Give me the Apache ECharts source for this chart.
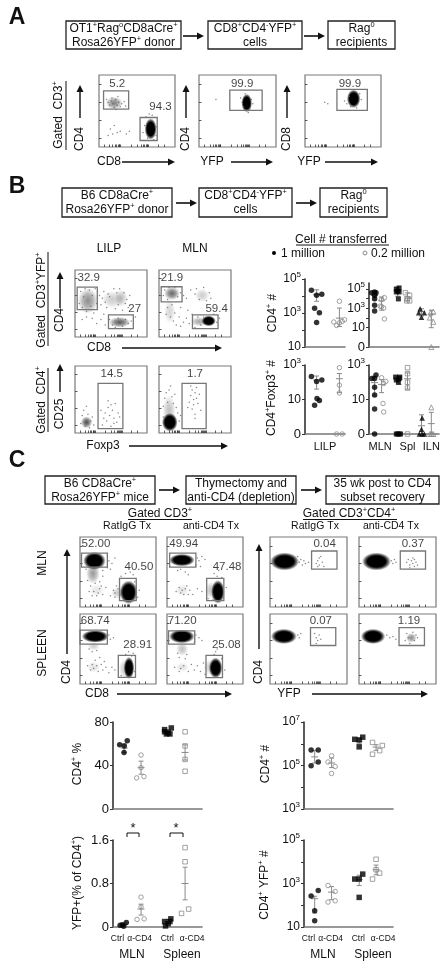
<!DOCTYPE html>
<html><head><meta charset="utf-8">
<style>html,body{margin:0;padding:0;background:#fff}#c{width:448px;height:970px;filter:blur(0.4px)}</style>
<script src="https://cdn.jsdelivr.net/npm/echarts@6/dist/echarts.min.js"></script>
</head><body><div id="c"></div>
<script>
/* ---------- flow cytometry panels: gates [x0,y0,x1,y1], labels [x,y,text],
   populations [cx,cy,spreadX,spreadY,density], events [x,y] (0-100 fluorescence scale) ---------- */
const a1Gates=[[6,52.5,39,78],[54,9,76.6,41]];
const a1Labels=[[24,88,'5.2'],[81,56,'94.3']];
const a1Pops=[[20,61,11,9,.5],[68,25,8,15,1]];
const a1Events=[[12,62],[14,58],[16,64],[18,60],[22,66],[24,58],[26,62],[28,56],[30,60],[33,63],[10,66],[20,55],[17,68],[25,70],[35,57],[22,52],[15,25],[18,18],[20,30],[24,20],[28,22],[12,16],[36,18],[40,22],[62,42],[70,44],[66,46],[64,12],[72,10],[60,30],[76,28],[75,16],[58,20]];
const a2Gates=[[40,51,82,79]];
const a2Labels=[[56,88,'99.9']];
const a2Pops=[[62,61,7,13,1]];
const a2Events=[[22,66],[56,62],[68,66],[58,56],[66,54],[54,68],[70,60],[60,74],[64,48]];
const a3Gates=[[42,51,82,80]];
const a3Labels=[[59,88,'99.9']];
const a3Pops=[[64,67,9,13,1]];
const a3Events=[[26,62],[30,60],[55,60],[58,70],[72,74],[74,66],[52,64],[68,54],[60,56]];

const b1Gates=[[3,41,31,74.5],[46.5,12.5,81,33]];
const b1Labels=[[19,89,'32.9'],[83,42,'27']];
const b1Pops=[[18,54,14,19,.45],[52,56,15,13,.2],[64,58,9,13,.25],[62,22,15,8,.65]];
const b1Events=[[6,50],[8,68],[10,44],[12,60],[14,72],[16,38],[20,70],[22,46],[24,62],[26,36],[28,72],[30,50],[34,62],[36,48],[38,58],[40,68],[42,52],[44,44],[46,64],[48,60],[54,72],[56,42],[58,66],[60,48],[62,72],[66,40],[68,66],[70,50],[72,56],[74,44],[76,62],[24,28],[30,20],[36,26],[42,18],[10,26],[16,30],[48,26],[52,18],[56,14],[60,28],[66,16],[70,26],[74,20],[78,24],[84,30],[40,34]];
const b2Gates=[[3,52.5,32,75],[46.5,12.5,82,33]];
const b2Labels=[[18,89,'21.9'],[80,42,'59.4']];
const b2Pops=[[18,65,11,10,.6],[60,62,10,10,.2],[69,24,10,8,1],[56,23,12,7,.35],[15,38,8,18,.16]];
const b2Events=[[6,62],[8,70],[12,56],[14,74],[22,74],[26,60],[30,66],[34,62],[38,58],[44,70],[50,64],[52,72],[56,56],[62,74],[66,54],[70,66],[72,58],[12,44],[16,30],[18,48],[20,24],[22,36],[24,18],[28,30],[30,16],[34,22],[38,28],[42,20],[46,34],[50,14],[54,30],[58,18],[62,30],[76,34],[80,22],[84,28],[10,34],[40,40],[30,44]];
const b3Gates=[[32,6.5,66.5,74]];
const b3Labels=[[51,88,'14.5']];
const b3Pops=[[16,16,8,9,.7]];
const b3Events=[[10,26],[12,34],[14,10],[18,28],[20,8],[22,18],[24,24],[16,40],[8,14],[38,12],[42,30],[44,18],[46,38],[48,26],[50,10],[52,34],[54,22],[56,44],[58,16],[60,30],[62,24],[46,48],[50,42],[40,22],[36,34],[54,14],[26,12]];
const b4Gates=[[32,6.5,65.5,74]];
const b4Labels=[[50,88,'1.7']];
const b4Pops=[[15,16,11,14,1],[14,34,9,22,.25]];
const b4Events=[[6,40],[8,52],[10,60],[12,46],[14,64],[16,70],[18,54],[20,44],[22,58],[24,38],[26,30],[28,18],[6,24],[30,26],[44,56],[46,64],[48,50],[50,60],[42,46],[52,68],[40,38],[54,44],[46,36],[50,28],[56,58],[44,70],[48,42],[52,52],[58,34],[50,22]];

const c11Gates=[[2,57,36,77],[52,9,74,41]];
const c11Labels=[[21,90,'52.00'],[77.5,57,'40.50']];
const c11Pops=[[19,66,15,13,1],[17,48,9,15,.4],[64,21,12,17,1],[50,20,9,8,.22],[22,24,10,9,.1]];
const c11Events=[[38,66],[42,62],[46,70],[36,56],[40,54],[30,44],[26,36],[10,38],[14,30],[20,34],[24,20],[30,18],[16,16],[34,28],[44,24],[40,16],[48,30],[54,44],[60,48],[66,50],[70,46],[72,36],[78,24],[76,14],[46,14],[8,54],[30,52],[18,22],[26,26],[22,16],[12,22],[28,30],[46,20],[50,26],[54,18]];
const c12Gates=[[3.5,57,38,77],[52.2,9,74.8,41]];
const c12Labels=[[22,90,'49.94'],[79,57,'47.48']];
const c12Pops=[[19.6,67,17,9,1],[67,21.6,9,17,1],[58,24,8,12,.25],[20,24,9,8,.12]];
const c12Events=[[40,70],[42,66],[46,72],[50,68],[38,60],[44,58],[18,54],[24,50],[14,52],[12,22],[16,28],[22,18],[26,30],[30,24],[34,18],[40,26],[46,22],[66,44],[68,52],[62,48],[72,42],[78,28],[54,12],[60,10],[28,46],[20,24],[18,20],[24,26],[28,18]];
const c13Gates=[[54,54,87,80]];
const c13Labels=[[71,90,'0.04']];
const c13Pops=[[19,65,19,13,1]];
const c13Events=[[38,64],[40,68],[42,60],[44,66],[46,62],[36,72],[60,62],[62,66],[64,60],[66,72],[68,64],[70,58],[62,58],[64,70],[50,64]];
const c14Gates=[[53.6,54,86.4,80]];
const c14Labels=[[70,90,'0.37']];
const c14Pops=[[22.7,65,19,13,1]];
const c14Events=[[42,66],[44,62],[46,68],[48,64],[62,64],[66,60],[68,66],[70,62],[72,68],[74,64],[76,60],[70,70],[66,56],[72,58],[64,68]];
const c21Gates=[[0,57,36,77],[50.4,9.5,73,41]];
const c21Labels=[[20,90,'68.74'],[76,56,'28.91']];
const c21Pops=[[20,68,18,9,1],[18,54,8,6,.2],[64.5,23,7,16,1],[60,22,9,14,.25],[18,24,9,8,.12]];
const c21Events=[[38,70],[40,64],[44,66],[16,46],[22,48],[12,50],[14,20],[10,26],[20,34],[24,18],[28,28],[30,20],[34,24],[38,16],[42,24],[46,20],[26,38],[32,32],[64,46],[60,42],[68,40],[54,12],[72,18],[70,44],[18,22],[22,26],[16,28]];
const c22Gates=[[2,57,36.5,76],[51.3,9,73,41]];
const c22Labels=[[20,90,'71.20'],[78,56,'25.08']];
const c22Pops=[[19.5,68,17,10,1],[20,50,8,10,.25],[64,23,9,15,1],[56,24,8,11,.2],[20,24,9,7,.12]];
const c22Events=[[38,70],[42,66],[46,62],[36,60],[16,38],[26,42],[14,44],[24,36],[10,24],[28,18],[32,28],[36,20],[40,26],[44,18],[48,30],[64,46],[66,50],[62,42],[72,36],[76,20],[50,14],[18,22],[22,26],[16,18]];
const c23Gates=[[52.6,55,85.4,80.5]];
const c23Labels=[[66,90,'0.07']];
const c23Pops=[[18,68,17,11,1]];
const c23Events=[[36,70],[38,66],[40,72],[58,72],[60,66],[62,62],[64,70],[60,58],[66,64]];
const c24Gates=[[52,55,85,80.5]];
const c24Labels=[[65,90,'1.19']];
const c24Pops=[[18.3,68,16,11,1],[68,66,7,7,.45]];
const c24Events=[[36,70],[40,66],[44,68],[48,64],[60,62],[62,72],[64,66],[72,62],[74,70],[76,66],[70,74],[66,58]];

/* ---------- summary plots: [x position along axis (0-100), value] ---------- */
const lilpCd4One=[[16,22000],[29,11000],[42,12600],[24,1900],[36,1050],[29,280]];
const lilpCd4Tenth=[[86,4900],[72,295],[79,186],[86,260],[93,320],[99,400]];
const lilpCd4Err=[[29,12000,4900,23000],[86,500,160,1950]];
const mlnCd4One=[[4,42000],[8,50000],[10,42000],[8,22000],[8,10000],[8,2150],[8,525]];
const mlnCd4Tenth=[[22,13000],[18,8000],[16,1700],[21,1070],[18,1500],[22,80]];
const splCd4One=[[39,100000],[43,130000],[41,60000],[39,50000],[43,50000],[42,9500]];
const splCd4Tenth=[[52,42000],[58,22000],[55,10000],[58,6000],[54,6000]];
const ilnCd4One=[[73,900],[71,355],[79,355],[75,118]];
const ilnCd4Tenth=[[88,355],[92,450],[87,110],[92,40],[89,0]];
const mlnCd4Err=[[8,22000,7000,50000],[18,6000,650,15000],[41,60000,18000,150000],[55,15000,6000,40000],[75,450,160,900],[89,250,10,650]];

const lilpFoxOne=[[16,218],[29,112],[42,135],[24,4.7],[30,11.5],[36,8.7]];
const lilpFoxTenth=[[86,700],[86,68],[86,24],[79,0],[93,0]];
const lilpFoxErr=[[29,135,40,230],[86,160,25,320]];
const mlnFoxOne=[[4,166],[10,263],[8,166],[8,52],[8,18],[8,2.8],[8,0]];
const mlnFoxTenth=[[18,182],[24,112],[21,85],[20,5.9],[21,1.9]];
const splFoxOne=[[38,200],[43,160],[39,135],[44,200],[42,100],[39,0],[41,0],[43,0],[45,0]];
const splFoxTenth=[[55,700],[55,315],[55,100],[55,46],[55,0]];
const ilnFoxOne=[[76,0.85],[75,0.19],[72,0],[76,0],[79,0]];
const ilnFoxTenth=[[89,3.5],[87,0],[89,0],[92,0],[90,0]];
const mlnFoxErr=[[8,95,16,230],[18,75,25,140],[43,140,75,230],[55,160,40,350],[75,0.3,0.1,1.3],[89,0.4,0.1,1.8]];

const cPctMlnCtrl=[[7.5,59],[12.7,58],[16,62.7],[12.4,52]];
const cPctMlnAnti=[[31.5,49.6],[31.5,38],[26.6,28.6],[34.8,29.8]];
const cPctSplCtrl=[[58,73],[65.5,74.5],[60,69],[64,69],[58,71],[62,70]];
const cPctSplAnti=[[81,71],[81,58],[81,45.6],[81,34.7]];
const cPctErr=[[12.5,56,52,60],[31.5,38,32,44],[62,71,69,73],[81,52,45,59]];

const cYfpMlnCtrl=[[8,.03],[12,.012],[15,.085],[10.5,.04]];
const cYfpMlnAnti=[[31.5,.55],[31.5,.37],[27,.14],[35,.15]];
const cYfpSplCtrl=[[58,.1],[65,.15],[62,.06],[59,.02],[64,.1]];
const cYfpSplAnti=[[81,1.46],[81,1.2],[85,.33],[77,.25]];
const cYfpErr=[[12.5,.04,.02,.07],[31.5,.33,.22,.42],[62,.1,.06,.14],[81,.8,.5,1.1]];

const cNumMlnCtrl=[[8,510000],[16,510000],[16,145000],[8,98000]];
const cNumMlnAnti=[[31,280000],[27,145000],[35,90000],[31,43000]];
const cNumSplCtrl=[[57,1600000],[62,1500000],[66,2000000],[62,720000]];
const cNumSplAnti=[[77,1150000],[88,830000],[85,480000],[77,330000]];
const cNumErr=[[12,250000,130000,500000],[31,130000,80000,220000],[62,1300000,1000000,1700000],[81,700000,500000,900000]];

const cYnumMlnCtrl=[[8,263],[16,480],[12,56],[12,19.5]];
const cYnumMlnAnti=[[27,810],[35,430],[27,140],[35,160]];
const cYnumSplCtrl=[[57,1600],[62,1600],[66,2700],[62,230]];
const cYnumSplAnti=[[81,13000],[81,4300],[85,3000],[77,1600]];
const cYnumErr=[[12,200,44,260],[31,400,180,720],[62,1500,800,2400],[81,4300,2500,7000]];

const ctrlTicks=[5,30,61,89];
const ctrlLabels=['Ctrl','α-CD4','Ctrl','α-CD4'];

/* ---------- layout (not data) ---------- */
const FONT='"Liberation Sans",Arial,sans-serif';
const GREY='#8a8a8a';
const flowTickX=[7,14,18,21,23,25,26,27,28,42,50,55,58,60,62,63,64,65,78,86];
const flowTickY=[12,37,62,87];
const ZERO_AT=0.1;

const grid=[],xAxis=[],yAxis=[],series=[];
function blobItem(p,api){
  const c=api.coord([api.value(0),api.value(1)]);
  const s=api.size([api.value(2),api.value(3)]);
  const a=api.value(4);
  const stops=a>=.95?[{offset:0,color:'rgba(0,0,0,1)'},{offset:.62,color:'rgba(0,0,0,1)'},{offset:.8,color:'rgba(0,0,0,.6)'},{offset:.92,color:'rgba(0,0,0,.2)'},{offset:1,color:'rgba(0,0,0,0)'}]
    :[{offset:0,color:`rgba(0,0,0,${a})`},{offset:.5,color:`rgba(0,0,0,${a*.65})`},{offset:1,color:'rgba(0,0,0,0)'}];
  return {type:'circle',x:c[0],y:c[1],scaleX:s[0]/10,scaleY:s[1]/10,shape:{cx:0,cy:0,r:10},
    style:{fill:new echarts.graphic.RadialGradient(.5,.5,.5,stops)},silent:true};
}
function gateItem(p,api){
  const a=api.coord([api.value(0),api.value(1)]),b=api.coord([api.value(2),api.value(3)]);
  return {type:'rect',shape:{x:a[0],y:b[1],width:b[0]-a[0],height:a[1]-b[1]},style:{fill:'none',stroke:'#777',lineWidth:1.3},silent:true};
}
function flow(left,top,w,h,gates,labels,pops,events){
  const i=grid.length;
  grid.push({left,top,width:w,height:h,show:true,borderColor:'#7a7a7a',borderWidth:1.2,backgroundColor:'#fff',containLabel:false});
  xAxis.push({gridIndex:i,type:'value',min:0,max:100,splitLine:{show:false},axisLine:{show:false},axisLabel:{show:false},
    axisTick:{show:true,inside:true,length:2.5,customValues:flowTickX,lineStyle:{color:'#333',width:.8}}});
  yAxis.push({gridIndex:i,type:'value',min:0,max:100,splitLine:{show:false},axisLine:{show:false},axisLabel:{show:false},
    axisTick:{show:true,inside:true,length:2.5,customValues:flowTickY,lineStyle:{color:'#333',width:.8}}});
  const ax={xAxisIndex:i,yAxisIndex:i};
  series.push({type:'custom',...ax,data:pops,renderItem:blobItem,clip:true,silent:true,z:2});
  series.push({type:'scatter',...ax,data:events,symbolSize:1.5,itemStyle:{color:'#666'},silent:true,z:3,animation:false});
  series.push({type:'custom',...ax,data:gates,renderItem:gateItem,clip:false,silent:true,z:4});
  series.push({type:'scatter',...ax,data:labels.map(l=>({value:[l[0],l[1]],name:l[2]})),symbolSize:0,silent:true,z:5,
    label:{show:true,position:'inside',formatter:'{b}',fontFamily:FONT,fontSize:11.5,color:'#111'}});
}
function errItem(p,api){
  const x=api.value(0),m=api.coord([x,api.value(1)]),l=api.coord([x,api.value(2)]),h=api.coord([x,api.value(3)]);
  const st={stroke:GREY,lineWidth:1};
  const seg=(x1,y1,x2,y2)=>({type:'line',shape:{x1,y1,x2,y2},style:st,silent:true});
  return {type:'group',children:[seg(m[0],l[1],m[0],h[1]),seg(m[0]-2.5,l[1],m[0]+2.5,l[1]),seg(m[0]-2.5,h[1],m[0]+2.5,h[1]),seg(m[0]-3.5,m[1],m[0]+3.5,m[1])]};
}
function expLabel(v){
  if(v===ZERO_AT)return '0';
  const e=Math.round(Math.log10(v));
  return e===1?'{b|10}':`{b|10}{s|${e}}`;
}
const richAxis={b:{fontFamily:FONT,fontSize:12,color:'#111'},s:{fontFamily:FONT,fontSize:8,color:'#111',verticalAlign:'top',lineHeight:16}};
function stat(left,top,w,h,yCfg,xLabels,groups,errs){
  const i=grid.length;
  grid.push({left,top,width:w,height:h,containLabel:false});
  const xa={gridIndex:i,type:'value',min:0,max:100,splitLine:{show:false},
    axisLine:{show:true,lineStyle:{color:'#777',width:1.6}},axisTick:{show:false},axisLabel:{show:false}};
  if(xLabels){
    xa.axisLabel={show:true,customValues:xLabels.at,margin:xLabels.margin,fontFamily:FONT,fontSize:xLabels.size,color:'#111',hideOverlap:false,
      showMinLabel:true,showMaxLabel:true,formatter:v=>xLabels.text[xLabels.at.indexOf(v)]};
  }
  xAxis.push(xa);
  const ya={gridIndex:i,min:yCfg.min,max:yCfg.max,splitLine:{show:false},
    axisLine:{show:true,onZero:false,lineStyle:{color:'#333',width:1.6}},
    axisTick:{show:true,length:3,customValues:yCfg.ticks,lineStyle:{color:'#333',width:1}},
    axisLabel:{show:true,customValues:yCfg.labels,margin:4,fontFamily:FONT,fontSize:13,color:'#111',hideOverlap:false,showMinLabel:true,showMaxLabel:true,rich:richAxis,
      formatter:yCfg.log?expLabel:yCfg.fmt}};
  ya.type=yCfg.log?'log':'value';
  if(yCfg.log)ya.logBase=10;
  yAxis.push(ya);
  const ax={xAxisIndex:i,yAxisIndex:i};
  series.push({type:'custom',...ax,data:errs,renderItem:errItem,clip:false,silent:true,z:3});
  groups.forEach(g=>{
    series.push({type:'scatter',...ax,clip:false,silent:true,z:g.open?2:4,animation:false,
      data:g.data.map(d=>[d[0],yCfg.log&&d[1]===0?ZERO_AT:d[1]]),symbol:g.sym,symbolSize:g.open?(g.size||5)-.5:(g.size||5.5),
      itemStyle:g.open?{color:'rgba(255,255,255,0)',borderColor:GREY,borderWidth:1}:{color:'#000'}});
  });
}
const dec=(a,b)=>{const r=[];for(let e=a;e<=b;e++)r.push(Math.pow(10,e));return r;};
const fill=(data,sym,size)=>({data,sym,size,open:false});
const open=(data,sym,size)=>({data,sym,size,open:true});

/* flow panels */
flow(99,75,76,72,a1Gates,a1Labels,a1Pops,a1Events);
flow(199,75,77,72,a2Gates,a2Labels,a2Pops,a2Events);
flow(305,75,76,72,a3Gates,a3Labels,a3Pops,a3Events);
flow(75,270,72,67,b1Gates,b1Labels,b1Pops,b1Events);
flow(159,270,72,67,b2Gates,b2Labels,b2Pops,b2Events);
flow(75,366,72,67,b3Gates,b3Labels,b3Pops,b3Events);
flow(159,366,72,67,b4Gates,b4Labels,b4Pops,b4Events);
flow(80,537,76,70,c11Gates,c11Labels,c11Pops,c11Events);
flow(167,537,76,70,c12Gates,c12Labels,c12Pops,c12Events);
flow(270,537,77,70,c13Gates,c13Labels,c13Pops,c13Events);
flow(359,537,77,70,c14Gates,c14Labels,c14Pops,c14Events);
flow(80,614,76,70,c21Gates,c21Labels,c21Pops,c21Events);
flow(167,614,76,70,c22Gates,c22Labels,c22Pops,c22Events);
flow(270,614,77,70,c23Gates,c23Labels,c23Pops,c23Events);
flow(359,614,77,70,c24Gates,c24Labels,c24Pops,c24Events);

/* summary plots */
const yB1={log:true,min:10,max:100000,ticks:dec(1,5),labels:[10,1000,100000]};
const yB2={log:true,min:ZERO_AT,max:420000,ticks:[ZERO_AT,...dec(1,5)],labels:[ZERO_AT,10,1000,100000]};
const yFox={log:true,min:ZERO_AT,max:1000,ticks:[ZERO_AT,10,1000],labels:[ZERO_AT,10,1000]};
stat(305,279,40,68,yB1,null,[fill(lilpCd4One,'circle'),open(lilpCd4Tenth,'circle')],lilpCd4Err);
stat(369,283,70,64,yB2,null,[fill(mlnCd4One,'circle'),open(mlnCd4Tenth,'circle'),fill(splCd4One,'rect',5),open(splCd4Tenth,'rect',5),fill(ilnCd4One,'triangle',5.5),open(ilnCd4Tenth,'triangle',5.5)],mlnCd4Err);
stat(305,365,40,69,yFox,{at:[50],text:['LILP'],margin:7,size:11},[fill(lilpFoxOne,'circle'),open(lilpFoxTenth,'circle')],lilpFoxErr);
stat(369,365,70,69,yFox,{at:[16,55,89],text:['MLN','Spl','ILN'],margin:7,size:11},[fill(mlnFoxOne,'circle'),open(mlnFoxTenth,'circle'),fill(splFoxOne,'rect',5),open(splFoxTenth,'rect',5),fill(ilnFoxOne,'triangle',5.5),open(ilnFoxTenth,'triangle',5.5)],mlnFoxErr);
const xCtrl={at:ctrlTicks,text:ctrlLabels,margin:7,size:8.5};
const yPct={min:0,max:80,ticks:[0,40,80],labels:[0,40,80],fmt:v=>String(v)};
const yYfp={min:0,max:1.6,ticks:[0,.8,1.6],labels:[0,.8,1.6],fmt:v=>String(v)};
const yNum={log:true,min:1000,max:10000000,ticks:dec(3,7),labels:[1000,100000,10000000]};
const yYnum={log:true,min:10,max:100000,ticks:dec(1,5),labels:[10,1000,100000]};
stat(113,722,89,87,yPct,null,[fill(cPctMlnCtrl,'circle'),open(cPctMlnAnti,'circle'),fill(cPctSplCtrl,'rect',5.5),open(cPctSplAnti,'rect',5)],cPctErr);
stat(113,840,89,87,yYfp,xCtrl,[fill(cYfpMlnCtrl,'circle'),open(cYfpMlnAnti,'circle'),fill(cYfpSplCtrl,'rect',5.5),open(cYfpSplAnti,'rect',5)],cYfpErr);
stat(304,722,89,87,yNum,null,[fill(cNumMlnCtrl,'circle'),open(cNumMlnAnti,'circle'),fill(cNumSplCtrl,'rect',5.5),open(cNumSplAnti,'rect',5)],cNumErr);
stat(304,840,89,87,yYnum,xCtrl,[fill(cYnumMlnCtrl,'circle'),open(cYnumMlnAnti,'circle'),fill(cYnumSplCtrl,'rect',5.5),open(cYnumSplAnti,'rect',5)],cYnumErr);

/* ---------- text, boxes, arrows ---------- */
const G=[];
function T(x,y,str,o={}){
  const size=o.size||12;
  const txt=str.split(/(\^.)/).filter(Boolean).map(t=>t[0]==='^'?`{s|${t[1]}}`:`{n|${t}}`).join('');
  G.push({type:'text',x,y,rotation:o.rot?Math.PI/2:0,silent:true,z:20,
    style:{text:txt,align:o.align||'center',verticalAlign:'middle',
      rich:{n:{fontFamily:FONT,fontSize:size,fontWeight:o.bold?'bold':'normal',fill:'#111',color:'#111'},
            s:{fontFamily:FONT,fontSize:size*.62,fill:'#111',color:'#111',verticalAlign:'top',lineHeight:size*1.2}}}});
}
function L(x1,y1,x2,y2,w=1,c='#111'){G.push({type:'line',silent:true,z:20,shape:{x1,y1,x2,y2},style:{stroke:c,lineWidth:w}});}
function Arrow(x1,y1,x2,y2,w=1.4,hl=7,hw=3.5){
  const a=Math.atan2(y2-y1,x2-x1),c=Math.cos(a),s=Math.sin(a);
  L(x1,y1,x2-hl*c,y2-hl*s,w);
  G.push({type:'polygon',silent:true,z:20,shape:{points:[[x2,y2],[x2-hl*c-hw*s,y2-hl*s+hw*c],[x2-hl*c+hw*s,y2-hl*s-hw*c]]},style:{fill:'#111'}});
}
function Box(x0,y0,x1,y1,l1,l2){
  G.push({type:'rect',silent:true,z:19,shape:{x:x0,y:y0,width:x1-x0,height:y1-y0},style:{fill:'#fff',stroke:'#222',lineWidth:1.3}});
  const cx=(x0+x1)/2; T(cx,y0+7.5,l1); T(cx,y0+21.5,l2);
}
/* A */
T(17,18,'A',{size:23,bold:true});
Box(66,21,181,49,'OT1^+Rag^oCD8aCre^+','Rosa26YFP^+ donor');
Box(208,21,302,49,'CD8^+CD4^-YFP^+','cells');
Box(328,21,395,49,'Rag^0','recipients');
Arrow(183,36,204,36,1.6);Arrow(304,36,325,36,1.6);
T(59,115,'Gated  CD3^+',{rot:1});L(66,81,66,150,1);
T(80,139,'CD4',{rot:1});Arrow(80,118,80,85);
T(186,139,'CD4',{rot:1});Arrow(186,118,186,85);
T(287,139,'CD8',{rot:1});Arrow(287,118,287,85);
T(109,162,'CD8');Arrow(122,162,175,162);
T(212,162,'YFP');Arrow(231,162,273,162);
T(309,162,'YFP');Arrow(325,162,378,162);
/* B */
T(17,187,'B',{size:23,bold:true});
Box(62,188,172,217,'B6 CD8aCre^+','Rosa26YFP^+ donor');
Box(199,188,292,217,'CD8^+CD4^-YFP^+','cells');
Box(320,188,387,217,'Rag^0','recipients');
Arrow(176,203,197,203,1.6);Arrow(296,203,317,203,1.6);
T(109,249,'LILP',{size:12});T(195,249,'MLN',{size:12});
T(42,300,'Gated  CD3^+YFP^+',{rot:1});L(48,252,48,346,1);
T(60,320,'CD4',{rot:1});Arrow(60,308,60,272);
T(99,348,'CD8');Arrow(122,348,222,348);
T(42,400,'Gated  CD4^+',{rot:1});L(48,368,48,432,1);
T(60,414,'CD25',{rot:1});Arrow(60,392,60,364);
T(103,446,'Foxp3');Arrow(129,446,228,446);
T(341,240,'Cell # transferred');L(296,245,389,245,1);
G.push({type:'circle',silent:true,z:20,shape:{cx:274,cy:253,r:2},style:{fill:'#000'}});
T(303,254,'1 million');
G.push({type:'circle',silent:true,z:20,shape:{cx:365,cy:253,r:2},style:{fill:'#fff',stroke:GREY,lineWidth:1}});
T(398,254,'0.2 million');
T(273,313,'CD4^+ #',{rot:1});T(272,398,'CD4^+Foxp3^+ #',{rot:1});
/* C */
T(17,461,'C',{size:23,bold:true});
Box(45,476,155,504,'B6 CD8aCre^+','Rosa26YFP^+ mice');
Box(186,476,296,504,'Thymectomy and','anti-CD4 (depletion)');
Box(326,476,439,504,'35 wk post to CD4','subset recovery');
Arrow(159,490,180,490,1.6);Arrow(301,490,322,490,1.6);
T(160,514,'Gated CD3^+');L(128,519.5,192,519.5,1);
T(127,526,'RatIgG Tx',{size:10.5});T(211,526,'anti-CD4 Tx',{size:10.5});
T(349,514,'Gated CD3^+CD4^+');L(303,519.5,397,519.5,1);
T(315,526,'RatIgG Tx',{size:10.5});T(391,526,'anti-CD4 Tx',{size:10.5});
T(43,563,'MLN',{rot:1});T(43,653,'SPLEEN',{rot:1});
T(67,672,'CD4',{rot:1});Arrow(67,654,67,549);
T(97,694,'CD8');Arrow(117,694,232,694);
T(259,672,'CD4',{rot:1});Arrow(259,649,259,544);
T(289,694,'YFP');Arrow(312,694,428,694);
T(78,764,'CD4^+ %',{rot:1});T(78,883,'YFP+(% of CD4^+)',{rot:1});
T(132,955,'MLN');T(182,955,'Spleen');
T(266,764,'CD4^+ #',{rot:1});T(265,885,'CD4^+ YFP^+ #',{rot:1});
T(323,955,'MLN');T(373,955,'Spleen');
G.push({type:'polyline',silent:true,z:20,shape:{points:[[127,837],[127,833],[139,833],[139,837]]},style:{stroke:'#111',lineWidth:1,fill:'none'}});
G.push({type:'polyline',silent:true,z:20,shape:{points:[[170,837],[170,833],[183,833],[183,837]]},style:{stroke:'#111',lineWidth:1,fill:'none'}});
T(133,828,'*',{size:13});T(176,828,'*',{size:13});

const chart=echarts.init(document.getElementById('c'),null,{width:448,height:970,renderer:'canvas'});
chart.setOption({animation:false,backgroundColor:'#fff',grid,xAxis,yAxis,series,graphic:G,tooltip:{show:false}});
</script></body></html>
